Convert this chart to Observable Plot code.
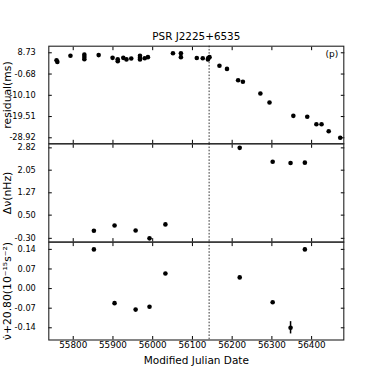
<!DOCTYPE html>
<html><head><meta charset="utf-8">
<script src="https://cdn.jsdelivr.net/npm/d3@7"></script>
<script src="https://cdn.jsdelivr.net/npm/@observablehq/plot@0.6"></script>
<style>
body{margin:0;background:#fff;}
#chart{position:relative;width:382px;height:382px;overflow:hidden;}
#chart svg{position:absolute;left:0;top:0;}
</style>
</head><body><div id="chart"></div>
<script>
const title = "PSR J2225+6535";
const xLabel = "Modified Julian Date";
const panelTag = "(p)";
const xTicks = [55800, 55900, 56000, 56100, 56200, 56300, 56400];
const glitchMJD = [56142];

const resLabel = "residual(ms)";
const resTicks = [8.73, -0.68, -10.10, -19.51, -28.92];
const resMJD = [55758, 55760, 55793, 55828, 55828, 55828, 55864, 55899, 55912, 55912, 55926, 55934, 55946, 55968, 55968, 55968, 55980, 55988, 56051, 56071, 56071, 56111, 56126, 56139, 56140, 56143, 56168, 56187, 56215, 56227, 56271, 56294, 56354, 56389, 56412, 56425, 56443, 56472];
const resVal = [5.4, 4.7, 7.4, 7.9, 6.9, 5.9, 7.7, 6.5, 5.9, 5.0, 6.5, 5.8, 6.2, 7.4, 6.5, 5.8, 6.3, 6.8, 8.5, 8.5, 6.8, 6.4, 6.3, 5.8, 6.4, 6.8, 3.0, 1.6, -3.4, -4.1, -9.3, -13.3, -19.2, -19.6, -22.9, -22.9, -26.0, -28.9];

const fitMJD = [55852, 55904, 55957, 55992, 56032, 56219, 56302, 56347, 56383];
const dnuLabel = "Δν(nHz)";
const dnuTicks = [2.82, 2.05, 1.27, 0.50, -0.30];
const dnuVal = [-0.04, 0.14, -0.03, -0.30, 0.18, 2.82, 2.34, 2.30, 2.31];

const nudotLabel = "ν̇+20.80(10⁻¹⁵s⁻²)";
const nudotTicks = [0.14, 0.07, 0.00, -0.07, -0.14];
const nudotVal = [0.14, -0.052, -0.075, -0.065, 0.054, 0.040, -0.049, -0.14, 0.14];
const nudotErr = [0.002, 0.002, 0.002, 0.002, 0.002, 0.002, 0.002, 0.022, 0.005];

const res = resMJD.map((m, i) => ({mjd: m, v: resVal[i]}));
const dnu = fitMJD.map((m, i) => ({mjd: m, v: dnuVal[i]}));
const nudot = fitMJD.map((m, i) => ({mjd: m, v: nudotVal[i], e: nudotErr[i]}));

const fmt = d => d.toFixed(2);
const xDomain = [55738.5, 56481];
const container = document.getElementById("chart");

function panel({data, yDomain, yTicks, ylabel, top, bottom, showX, extra = [], err = false}) {
  const marks = [
    Plot.ruleX(glitchMJD, {stroke: "black", strokeWidth: 0.8, strokeDasharray: "1.6,1.6"}),
    Plot.axisY(yTicks, {anchor: "left", tickSize: -3.5, tickPadding: 16.5, tickFormat: fmt, label: null, fontSize: 8.2}),
    Plot.axisY(yTicks, {anchor: "right", tickSize: -3.5, tickFormat: () => "", label: null}),
    Plot.axisX(xTicks, {anchor: "top", tickSize: -3.5, tickFormat: () => "", label: null}),
    Plot.axisX(xTicks, {anchor: "bottom", tickSize: -3.5, tickPadding: 5.5, tickFormat: showX ? (d => String(d)) : (() => ""), label: null, fontSize: 8.8}),
    Plot.frame({stroke: "#222", strokeWidth: 1.1}),
  ];
  if (err) marks.push(Plot.ruleX(data, {x: "mjd", y1: d => d.v - d.e, y2: d => d.v + d.e, stroke: "black", strokeWidth: 1.5}));
  marks.push(Plot.dot(data, {x: "mjd", y: "v", r: 2.3, fill: "black", stroke: null}));
  marks.push(Plot.text([ylabel], {frameAnchor: "left", rotate: -90, dx: -41.5, text: d => d, fontSize: 10.8, textAnchor: "middle", lineAnchor: "middle"}));
  marks.push(...extra);
  return Plot.plot({
    width: 382, height: 382,
    marginLeft: 48.3, marginRight: 38.7, marginTop: top, marginBottom: 382 - bottom,
    style: {background: "transparent", overflow: "visible", fontFamily: "DejaVu Sans", fontSize: "8.8px", color: "black"},
    x: {domain: xDomain},
    y: {domain: yDomain},
    marks
  });
}

container.appendChild(panel({
  data: res, yDomain: [-31.58, 11.65], yTicks: resTicks, ylabel: resLabel, top: 45.7, bottom: 143.3, showX: false,
  extra: [
    Plot.text([title], {frameAnchor: "top", dy: -9.3, text: d => d, fontSize: 10.4, lineAnchor: "middle"}),
    Plot.text([panelTag], {frameAnchor: "top-right", dx: -12, dy: 8, text: d => d, fontSize: 9, textAnchor: "middle", lineAnchor: "middle"})
  ]
}));
container.appendChild(panel({
  data: dnu, yDomain: [-0.43, 2.96], yTicks: dnuTicks, ylabel: dnuLabel, top: 143.3, bottom: 241.6, showX: false
}));
container.appendChild(panel({
  data: nudot, yDomain: [-0.1836, 0.166], yTicks: nudotTicks, ylabel: nudotLabel, top: 241.6, bottom: 339.5, showX: true, err: true,
  extra: [
    Plot.text([xLabel], {frameAnchor: "bottom", dy: 20.5, text: d => d, fontSize: 10.5, lineAnchor: "middle"})
  ]
}));
</script>
</body></html>
